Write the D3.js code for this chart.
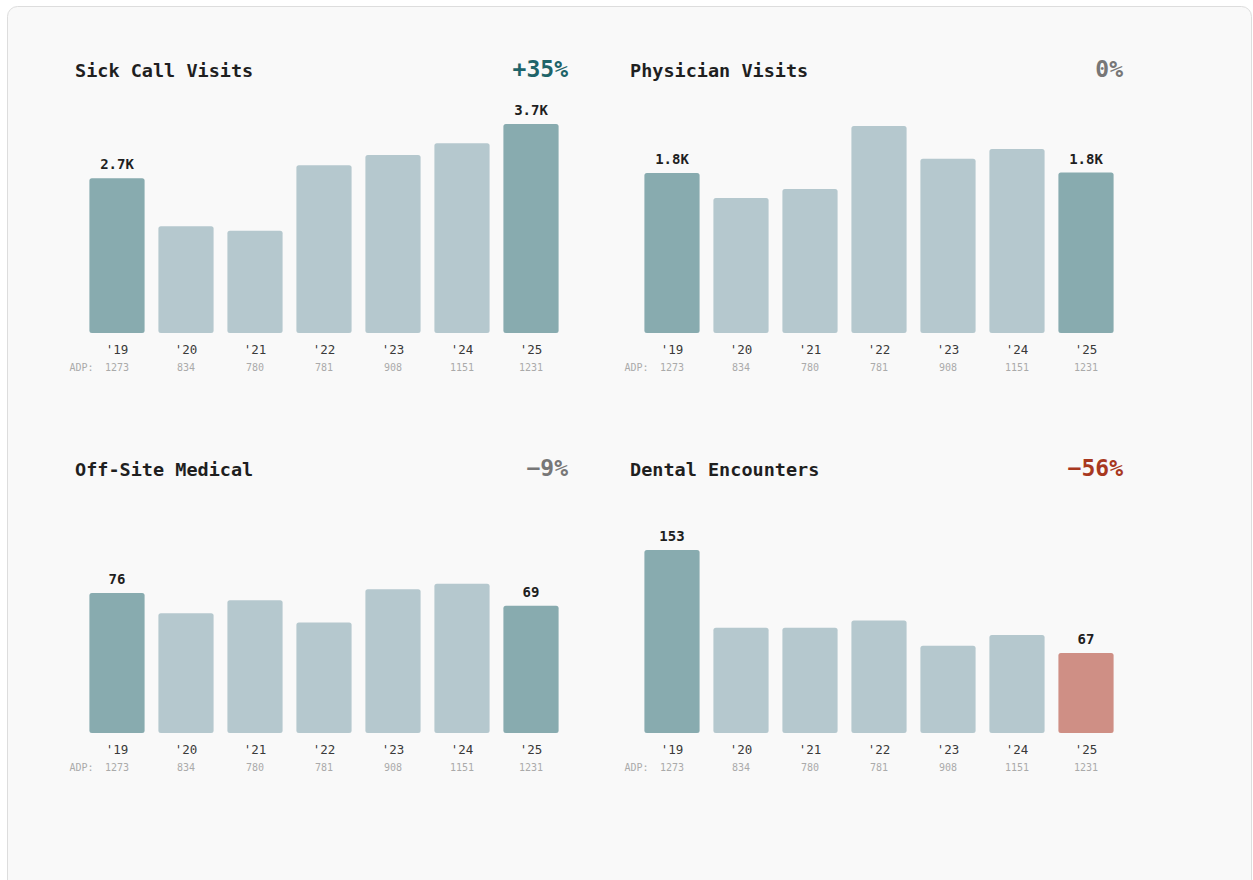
<!DOCTYPE html>
<html>
<head>
<meta charset="utf-8">
<script src="https://cdn.jsdelivr.net/npm/d3@7"></script>
<style>
  html, body { margin: 0; padding: 0; background: #ffffff; }
  svg { display: block; }
  text { font-family: "DejaVu Sans Mono", "Liberation Mono", monospace; }
</style>
</head>
<body>
<svg id="chart" width="1253" height="880"></svg>
<script>
// Years and average daily population shown under each bar
const years = ["'19", "'20", "'21", "'22", "'23", "'24", "'25"];
const adp = [1273, 834, 780, 781, 908, 1151, 1231];

// Panel titles
const titles = ["Sick Call Visits", "Physician Visits", "Off-Site Medical", "Dental Encounters"];

// Yearly counts per panel
const sickCall = [2740, 1890, 1810, 2970, 3150, 3360, 3700];
const physician = [1800, 1520, 1620, 2330, 1960, 2070, 1805];
const offSite = [76, 65, 72, 60, 78, 81, 69];
const dental = [153, 88, 88, 94, 73, 82, 67];

// Upper end of each panel's value axis
const yDomainMax = [3894, 2475, 119.4, 184];

const seriesList = [sickCall, physician, offSite, dental];

const svg = d3.select("#chart");

// Card background
svg.append("rect")
  .attr("x", 7.5).attr("y", 6.5)
  .attr("width", 1244).attr("height", 900)
  .attr("rx", 10)
  .attr("fill", "#f9f9f9")
  .attr("stroke", "#dddddd");

const colDark = "#88abaf";
const colLight = "#b5c8ce";
const colRed = "#cf8f85";

const panelW = 555, panelH = 399;
const plotH = 220;

function fmtVal(v) {
  return v >= 1000 ? (v / 1000).toFixed(1) + "K" : String(v);
}

seriesList.forEach((vals, i) => {
  const col = i % 2, row = Math.floor(i / 2);
  const g = svg.append("g")
    .attr("transform", `translate(${col * panelW},${row * panelH})`);

  const base = 333 + (row ? 1 : 0);
  const x = d3.scaleBand().domain(years).range([82.5, 565.5])
    .paddingInner(0.2).paddingOuter(0.1);
  const y = d3.scaleLinear().domain([0, yDomainMax[i]]).range([base, base - plotH]);

  const first = vals[0], last = vals[vals.length - 1];
  const pct = Math.round((last - first) / first * 100);
  const pctColor = pct >= 10 ? "#1e6469" : (pct <= -10 ? "#a8381f" : "#777777");
  const pctText = pct > 0 ? "+" + pct + "%" : (pct < 0 ? "\u2212" + Math.abs(pct) + "%" : "0%");

  g.append("text")
    .attr("x", 75).attr("y", 77)
    .attr("font-size", 18.5).attr("font-weight", "bold")
    .attr("fill", "#1f1f1f")
    .text(titles[i]);

  g.append("text")
    .attr("x", 568).attr("y", 77)
    .attr("text-anchor", "end")
    .attr("font-size", 23).attr("font-weight", "bold")
    .attr("fill", pctColor)
    .text(pctText);

  const n = vals.length;
  const barColor = (d, j) => {
    if (j === n - 1) return pct <= -50 ? colRed : colDark;
    return j === 0 ? colDark : colLight;
  };

  g.selectAll("rect.bar").data(vals).join("rect")
    .attr("class", "bar")
    .attr("x", (d, j) => x(years[j]))
    .attr("y", d => y(d))
    .attr("width", x.bandwidth())
    .attr("height", d => base - y(d))
    .attr("rx", 2.5)
    .attr("fill", barColor);

  // Value labels on the first and last year
  g.selectAll("text.val").data([0, n - 1]).join("text")
    .attr("class", "val")
    .attr("x", j => x(years[j]) + x.bandwidth() / 2)
    .attr("y", j => y(vals[j]) - 9)
    .attr("text-anchor", "middle")
    .attr("font-size", 14).attr("font-weight", "bold")
    .attr("fill", "#1f1f1f")
    .text(j => fmtVal(vals[j]));

  g.selectAll("text.yr").data(years).join("text")
    .attr("class", "yr")
    .attr("x", d => x(d) + x.bandwidth() / 2)
    .attr("y", base + 21)
    .attr("text-anchor", "middle")
    .attr("font-size", 12.5)
    .attr("fill", "#3a3a3a")
    .text(d => d);

  g.selectAll("text.adp").data(adp).join("text")
    .attr("class", "adp")
    .attr("x", (d, j) => x(years[j]) + x.bandwidth() / 2)
    .attr("y", base + 38)
    .attr("text-anchor", "middle")
    .attr("font-size", 10)
    .attr("fill", "#aaaaaa")
    .text(d => d);

  g.append("text")
    .attr("x", 69.5).attr("y", base + 38)
    .attr("font-size", 10)
    .attr("fill", "#aaaaaa")
    .text("ADP:");
});
</script>
</body>
</html>
